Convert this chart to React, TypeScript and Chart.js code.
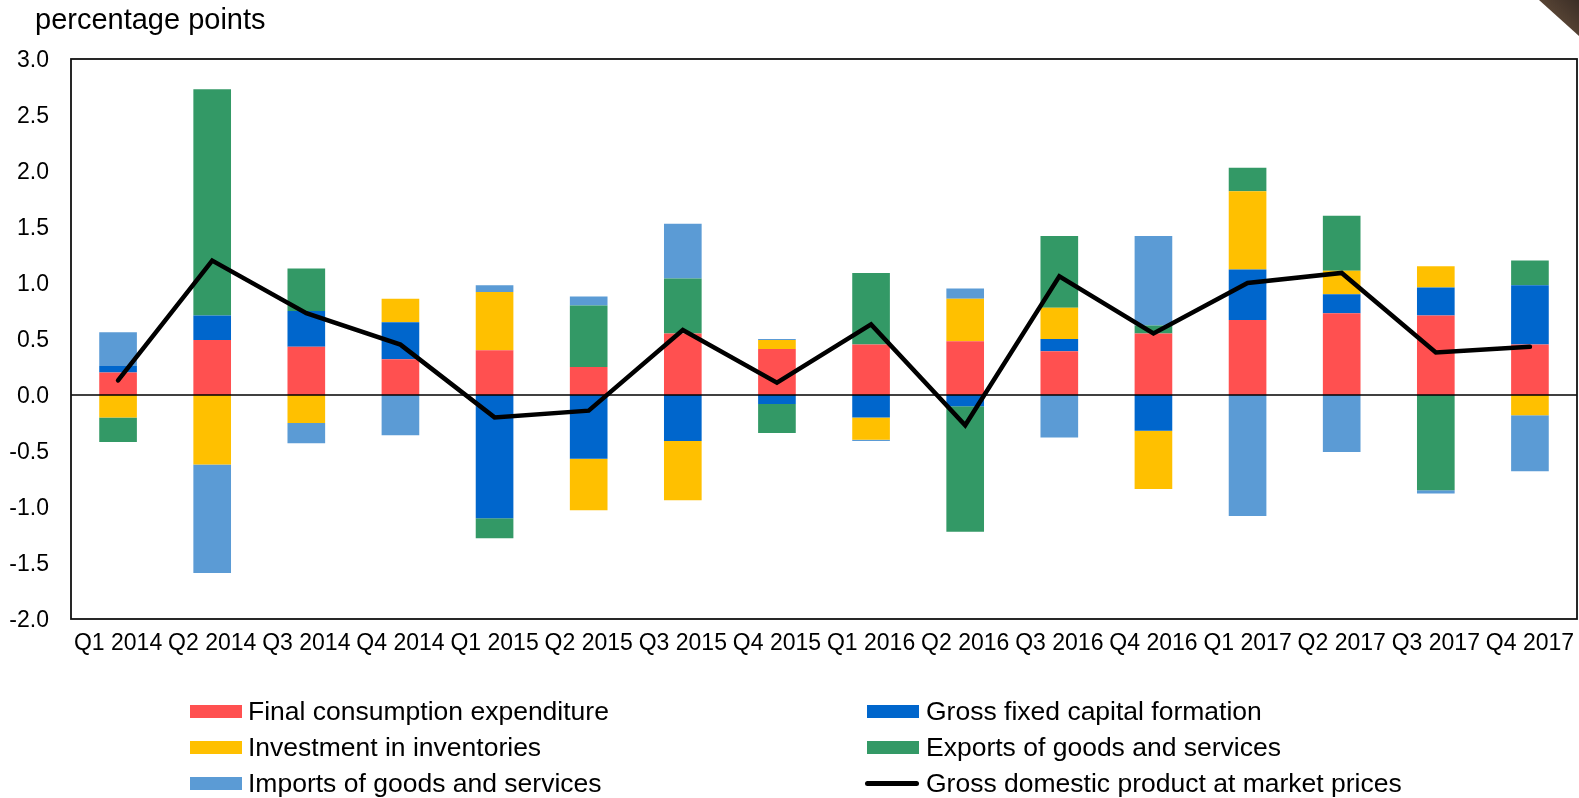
import React, { useEffect, useRef } from 'react';
import { Chart, registerables } from 'chart.js';

Chart.register(...registerables);

const categories = [
  'Q1 2014', 'Q2 2014', 'Q3 2014', 'Q4 2014',
  'Q1 2015', 'Q2 2015', 'Q3 2015', 'Q4 2015',
  'Q1 2016', 'Q2 2016', 'Q3 2016', 'Q4 2016',
  'Q1 2017', 'Q2 2017', 'Q3 2017', 'Q4 2017',
];

const finalConsumption = [0.20, 0.49, 0.43, 0.32, 0.40, 0.25, 0.55, 0.41, 0.45, 0.48, 0.39, 0.55, 0.67, 0.73, 0.71, 0.45];
const grossFixedCapital = [0.06, 0.22, 0.32, 0.33, -1.10, -0.57, -0.41, -0.08, -0.20, -0.10, 0.11, -0.32, 0.45, 0.17, 0.25, 0.53];
const inventories = [-0.20, -0.62, -0.25, 0.21, 0.52, -0.46, -0.53, 0.08, -0.20, 0.38, 0.28, -0.52, 0.70, 0.21, 0.19, -0.18];
const exportsGS = [-0.22, 2.02, 0.38, 0.0, -0.18, 0.55, 0.49, -0.26, 0.64, -1.12, 0.64, 0.07, 0.21, 0.49, -0.85, 0.22];
const importsGS = [0.30, -0.97, -0.18, -0.36, 0.06, 0.08, 0.49, 0.01, -0.01, 0.09, -0.38, 0.80, -1.08, -0.51, -0.03, -0.50];
const gdp = [0.13, 1.20, 0.73, 0.45, -0.20, -0.14, 0.58, 0.11, 0.63, -0.27, 1.06, 0.55, 1.00, 1.09, 0.38, 0.43];

const barLabels = [
  'Final consumption expenditure',
  'Gross fixed capital formation',
  'Investment in inventories',
  'Exports of goods and services',
  'Imports of goods and services',
];
const lineLabel = 'Gross domestic product at market prices';
const barColors = ['#FF5050', '#0066CC', '#FFC000', '#339966', '#5B9BD5'];
const barSeries = [finalConsumption, grossFixedCapital, inventories, exportsGS, importsGS];

const yTicks = [-2.0, -1.5, -1.0, -0.5, 0.0, 0.5, 1.0, 1.5, 2.0, 2.5, 3.0];

const FONT = '"Liberation Sans", Arial, sans-serif';

export default function App() {
  const canvasRef = useRef<HTMLCanvasElement>(null);

  useEffect(() => {
    const canvas = canvasRef.current;
    if (!canvas) return;

    const framePlugin = {
      id: 'framePlugin',
      beforeDatasetDraw(chart: any, args: any) {
        if (args.meta.type !== 'line') return;
        const { ctx, chartArea } = chart;
        const y = chart.scales.y.getPixelForValue(0);
        ctx.save();
        ctx.strokeStyle = '#000';
        ctx.lineWidth = 1.5;
        ctx.beginPath();
        ctx.moveTo(chartArea.left, y);
        ctx.lineTo(chartArea.right, y);
        ctx.stroke();
        ctx.restore();
      },
      afterDraw(chart: any) {
        const { ctx, chartArea } = chart;
        ctx.save();
        ctx.strokeStyle = '#111';
        ctx.lineWidth = 1.8;
        ctx.strokeRect(chartArea.left, chartArea.top, chartArea.right - chartArea.left, chartArea.bottom - chartArea.top);
        ctx.restore();
      },
    };

    const datasets: any[] = barSeries.map((data, i) => ({
      type: 'bar',
      label: barLabels[i],
      data,
      backgroundColor: barColors[i],
      borderWidth: 0,
      barPercentage: 0.4,
      categoryPercentage: 1.0,
      stack: 'contrib',
      order: 1,
    }));
    datasets.push({
      type: 'line',
      label: lineLabel,
      data: gdp,
      borderColor: '#000',
      backgroundColor: '#000',
      borderWidth: 4.5,
      pointRadius: 0,
      tension: 0,
      fill: false,
      stack: 'gdp',
      order: 0,
      borderCapStyle: 'round',
      borderJoinStyle: 'miter',
    });

    const chart = new Chart(canvas, {
      type: 'bar',
      data: { labels: categories, datasets },
      options: {
        responsive: false,
        animation: false,
        layout: { padding: { top: 59, right: 2, left: 0, bottom: 0 } },
        plugins: {
          legend: { display: false },
          tooltip: { enabled: false },
          title: { display: false },
        },
        scales: {
          x: {
            stacked: true,
            grid: { display: false, drawTicks: false },
            border: { display: false },
            ticks: {
              autoSkip: false,
              maxRotation: 0,
              minRotation: 0,
              padding: 11,
              color: '#000',
              font: { family: FONT, size: 23 },
            },
            afterFit: (s: any) => { s.height = 179; s.paddingLeft = 0; s.paddingRight = 0; },
          },
          y: {
            stacked: true,
            min: yTicks[0],
            max: yTicks[yTicks.length - 1],
            afterBuildTicks: (s: any) => { s.ticks = yTicks.map((v) => ({ value: v })); },
            ticks: {
              padding: 22,
              labelOffset: 2,
              color: '#000',
              font: { family: FONT, size: 23 },
              callback: (v: any) => Number(v).toFixed(1),
            },
            grid: { display: false, drawTicks: false },
            border: { display: false },
            afterFit: (s: any) => { s.width = 71; },
          },
        },
      },
      plugins: [framePlugin],
    } as any);

    return () => chart.destroy();
  }, []);

  const legendItems = [
    { label: barLabels[0], color: barColors[0], col: 0, row: 0, kind: 'box' },
    { label: barLabels[1], color: barColors[1], col: 1, row: 0, kind: 'box' },
    { label: barLabels[2], color: barColors[2], col: 0, row: 1, kind: 'box' },
    { label: barLabels[3], color: barColors[3], col: 1, row: 1, kind: 'box' },
    { label: barLabels[4], color: barColors[4], col: 0, row: 2, kind: 'box' },
    { label: lineLabel, color: '#000', col: 1, row: 2, kind: 'line' },
  ];
  const colSwatchX = [190, 867];
  const colTextX = [248, 926];
  const rowY = [711.5, 747.5, 783.5];

  return (
    <div style={{ position: 'fixed', left: 0, top: 0, width: 1579, height: 798, background: '#fff', overflow: 'hidden' }}>
      <canvas ref={canvasRef} width={1579} height={798} style={{ display: 'block', position: 'absolute', left: 0, top: 0 }} />
      <div
        style={{
          position: 'absolute', left: 35, top: 5, fontFamily: FONT, fontSize: 29, lineHeight: 1,
          color: '#000', whiteSpace: 'nowrap',
        }}
      >
        percentage points
      </div>
      <div
        style={{
          position: 'absolute', right: 0, top: 0, width: 40, height: 36,
          background: 'linear-gradient(225deg, #3b2e26 0%, #5a4636 60%, #8a7a6a 100%)',
          clipPath: 'polygon(0 0, 100% 0, 100% 100%)',
        }}
      />
      {legendItems.map((it, i) => (
        <React.Fragment key={i}>
          {it.kind === 'box' ? (
            <div style={{ position: 'absolute', left: colSwatchX[it.col], top: rowY[it.row] - 7, width: 52, height: 13, background: it.color }} />
          ) : (
            <div style={{ position: 'absolute', left: colSwatchX[it.col] - 2, top: rowY[it.row] - 2.5, width: 54, height: 5, background: it.color, borderRadius: 3 }} />
          )}
          <div
            style={{
              position: 'absolute', left: colTextX[it.col], top: rowY[it.row] - 13.5, fontFamily: FONT, fontSize: 26.5,
              lineHeight: 1, color: '#000', whiteSpace: 'nowrap',
            }}
          >
            {it.label}
          </div>
        </React.Fragment>
      ))}
    </div>
  );
}
